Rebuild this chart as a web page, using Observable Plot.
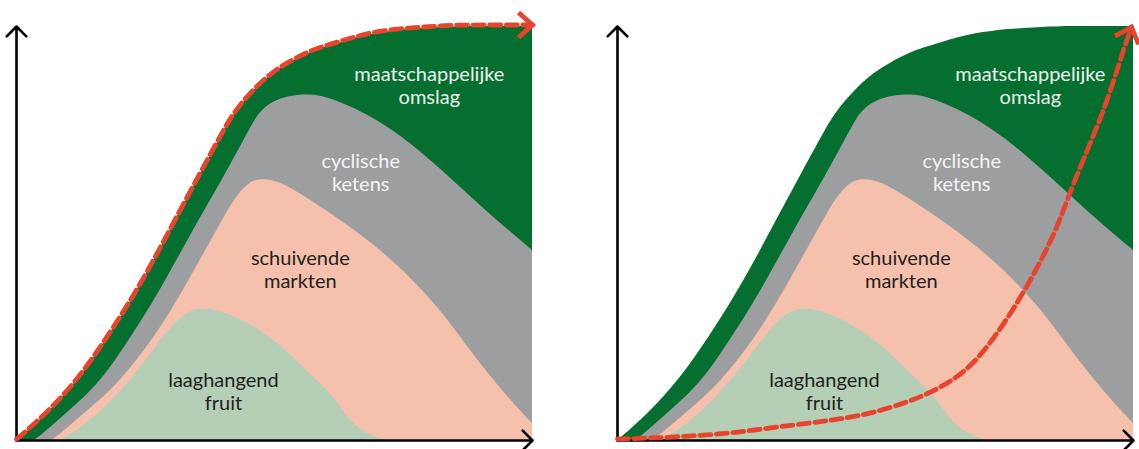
<!DOCTYPE html>
<html>
<head>
<meta charset="utf-8">
<script src="https://cdn.jsdelivr.net/npm/d3@7"></script>
<script src="https://cdn.jsdelivr.net/npm/@observablehq/plot@0.6"></script>
<style>
  html, body { margin: 0; padding: 0; background: #fff; }
  #wrap { display: flex; width: 1139px; height: 449px; overflow: hidden; }
  #wrap svg { overflow: visible; display: block; }
</style>
</head>
<body>
<div id="wrap"></div>
<script>
// ---- data (x = time, 0..100; y = level, 0..100) ----
const layerLabels = ["maatschappelijke\nomslag", "cyclische\nketens", "schuivende\nmarkten", "laaghangend\nfruit"];
const layerColors = ["#046f2e", "#9d9e9f", "#f6c1ac", "#b4cfb5"];
const labelColors = ["#eef4ef", "#f4f4f4", "#231f20", "#231f20"];
const labelAnchors = [[80.0, 85.9], [66.7, 64.9], [55.0, 41.4], [40.1, 11.9]];

// cumulative top of each layer
const topOmslag = [[0,0],[0.8,0.7],[6.6,7.2],[12.4,15.2],[18.2,25.8],[22.5,34.3],[26.6,43.2],[30.4,52.2],[35.7,64.5],[39.5,73.2],[42.1,79.0],[45.9,84.5],[49.8,88.9],[53.1,91.3],[56.4,93.5],[59.5,94.9],[62.8,96.1],[66.1,97.3],[69.2,98.3],[72.5,98.8],[75.8,99.3],[78.9,99.5],[82.2,99.8],[85.5,100],[92.4,100],[100,100]];
const topKetens = [[3.3,0],[4.7,1.0],[10.1,7.0],[16.3,13.8],[22.7,25.8],[27.9,36.2],[35.1,52.7],[38.2,59.2],[43.4,70.8],[46.3,77.8],[48.3,80.7],[51.2,82.6],[53.7,83.3],[57.0,83.6],[60.3,82.9],[66.7,79.7],[73.1,74.9],[79.7,68.4],[86.1,61.1],[92.4,53.9],[100,45.9]];
const topMarkten = [[6.6,0],[7.8,0.7],[13.4,6.8],[19.8,13.5],[27.9,26.6],[34.3,40.6],[39.9,53.1],[42.1,58.0],[44.8,62.1],[47.3,63.3],[51.2,62.6],[57.0,58.0],[63.4,52.7],[70.0,46.6],[76.4,39.4],[82.8,30.7],[89.3,19.3],[95.7,9.7],[100,4.1]];
const topFruit = [[8.1,0],[9.9,0.7],[16.3,6.5],[22.7,15.2],[27.9,24.2],[31.2,29.0],[33.7,31.2],[35.7,31.9],[38.2,31.6],[42.1,30.2],[47.3,26.6],[51.2,23.0],[55.6,17.6],[60.3,12.1],[62.2,9.2],[64.2,5.6],[66.7,2.4],[70.0,0.5],[71.9,0]];

// exponential trend in the right panel
const exponential = [[0,0],[6.4,0.2],[14.2,0.7],[21.9,1.4],[29.7,2.7],[37.4,3.9],[43.2,4.8],[49.6,6.3],[56.2,8.9],[60.1,10.9],[64.5,13.8],[67.8,16.9],[70.9,21.0],[74.2,26.6],[76.7,31.4],[78.7,35.5],[82.0,42.8],[85.3,51.4],[87.2,58.0],[90.3,67.6],[93.6,77.3],[96.1,86.2],[98.1,94.2],[99.6,99.5]];

const xDomain = [0, 100];
const yDomain = [0, 100];
const layerTops = [topOmslag, topKetens, topMarkten, topFruit];

const RED = "#e8432c";

function chevron(color, context) {
  const doc = (context && context.document) || document;
  const ns = "http://www.w3.org/2000/svg";
  const m = doc.createElementNS(ns, "marker");
  m.setAttribute("viewBox", "-20 -20 40 40");
  m.setAttribute("markerUnits", "userSpaceOnUse");
  m.setAttribute("markerWidth", 40);
  m.setAttribute("markerHeight", 40);
  m.setAttribute("orient", "auto");
  m.setAttribute("overflow", "visible");
  const p = doc.createElementNS(ns, "path");
  p.setAttribute("d", "M-14,-12.5L0,0L-14,12.5");
  p.setAttribute("fill", "none");
  p.setAttribute("stroke", color);
  p.setAttribute("stroke-width", 4.8);
  p.setAttribute("stroke-dasharray", "none");
  p.setAttribute("stroke-linecap", "butt");
  p.setAttribute("stroke-linejoin", "miter");
  m.appendChild(p);
  return m;
}

function panel(trend, width, marginLeft, marginRight, marker) {
  const marks = [];
  layerTops.forEach((pts, i) => {
    marks.push(Plot.areaY(pts, {x: d => d[0], y: d => d[1], fill: layerColors[i], curve: "basis"}));
  });
  layerLabels.forEach((t, i) => {
    marks.push(Plot.text([t], {
      x: () => labelAnchors[i][0], y: () => labelAnchors[i][1],
      text: d => d, fill: labelColors[i], fontSize: 20, fontFamily: "Lato, 'Open Sans', sans-serif",
      lineHeight: 1.15, textAnchor: "middle", lineAnchor: "middle"
    }));
  });
  marks.push(Plot.arrow([{x1: xDomain[0], y1: yDomain[0], x2: xDomain[0], y2: yDomain[1]}],
    {x1: "x1", y1: "y1", x2: "x2", y2: "y2", stroke: "#000", strokeWidth: 2.6, headAngle: 90, headLength: 8}));
  marks.push(Plot.arrow([{x1: xDomain[0], y1: yDomain[0], x2: xDomain[1], y2: yDomain[0]}],
    {x1: "x1", y1: "y1", x2: "x2", y2: "y2", stroke: "#000", strokeWidth: 2.6, headAngle: 90, headLength: 8}));
  marks.push(Plot.line(trend, {
    x: d => d[0], y: d => d[1], stroke: RED, strokeWidth: 4.8, strokeDasharray: "11,5.5",
    curve: "basis", dy: -1.5, markerEnd: marker
  }));
  return Plot.plot({
    width, height: 449,
    marginLeft, marginRight, marginTop: 26, marginBottom: 9,
    x: {domain: xDomain, axis: null},
    y: {domain: yDomain, axis: null},
    style: {background: "transparent", overflow: "visible"},
    marks
  });
}

function build(marker) {
  const a = panel(topOmslag, 570, 16, 38, marker);
  const b = panel(exponential, 569, 47, 6, marker);
  return [a, b];
}

let svgs;
try { svgs = build(chevron); } catch (e) { svgs = build("arrow"); }
const wrap = document.getElementById("wrap");
svgs.forEach(s => wrap.appendChild(s));
</script>
</body>
</html>
